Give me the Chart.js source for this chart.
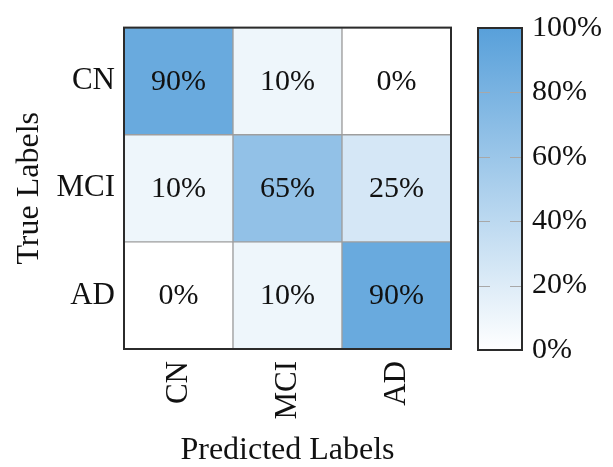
<!DOCTYPE html>
<html>
<head>
<meta charset="utf-8">
<script src="https://cdn.jsdelivr.net/npm/chart.js@4/dist/chart.umd.min.js"></script>
<style>
  html, body { margin: 0; padding: 0; background: #fff; }
  #wrap { position: relative; width: 613px; height: 467px; }
  #matrix { position: absolute; left: 0; top: 0; }
  #scale { position: absolute; left: 470px; top: 0; }
</style>
</head>
<body>
<div id="wrap">
  <canvas id="matrix" width="470" height="467"></canvas>
  <canvas id="scale" width="143" height="467"></canvas>
</div>
<script>
// Confusion matrix: rows are true labels, columns predicted labels (percent)
const predictedLabels = ['CN', 'MCI', 'AD'];
const trueLabels = ['CN', 'MCI', 'AD'];
const rowCN  = [90, 10, 0];
const rowMCI = [10, 65, 25];
const rowAD  = [0, 10, 90];
const rows = [rowCN, rowMCI, rowAD];
const colorbarTicks = [0, 20, 40, 60, 80, 100];

const FONT = '"Liberation Serif", "Times New Roman", serif';
const TEXT = '#111';
const LOW = [255, 255, 255];
const HIGH = [88, 160, 218];

function shade(v) {
  const t = v / 100;
  const c = LOW.map((lo, i) => Math.round(lo + (HIGH[i] - lo) * t));
  return `rgb(${c[0]},${c[1]},${c[2]})`;
}

// Dark frame around the plot area, drawn over the marks
const framePlugin = {
  id: 'frame',
  afterDatasetsDraw(chart) {
    const a = chart.chartArea, ctx = chart.ctx;
    ctx.save();
    ctx.strokeStyle = '#2b2b2b';
    ctx.lineWidth = 2;
    ctx.strokeRect(a.left, a.top, a.right - a.left, a.bottom - a.top);
    ctx.restore();
  }
};

// Percent value printed in the middle of every cell
const cellText = {
  id: 'cellText',
  afterDatasetsDraw(chart) {
    const ctx = chart.ctx;
    ctx.save();
    ctx.font = '30px ' + FONT;
    ctx.fillStyle = TEXT;
    ctx.textAlign = 'center';
    ctx.textBaseline = 'middle';
    chart.data.datasets.forEach((ds, di) => {
      chart.getDatasetMeta(di).data.forEach((bar, i) => {
        const p = bar.getCenterPoint();
        ctx.fillText(ds.values[i] + '%', p.x, p.y + 1);
      });
    });
    ctx.restore();
  }
};

// One floating-bar dataset per true-label row; top row is CN
const matrixDatasets = rows.map((vals, r) => ({
  label: trueLabels[r],
  values: vals,
  data: predictedLabels.map(() => [2 - r, 3 - r]),
  backgroundColor: vals.map(shade),
  borderColor: '#9e9e9e',
  borderWidth: 1,
  borderSkipped: false,
  barPercentage: 1,
  categoryPercentage: 1
}));

new Chart(document.getElementById('matrix'), {
  type: 'bar',
  data: { labels: predictedLabels, datasets: matrixDatasets },
  options: {
    responsive: false,
    animation: false,
    devicePixelRatio: 1,
    layout: { padding: { left: 0, top: 23, right: 19, bottom: 0 } },
    plugins: { legend: { display: false }, tooltip: { enabled: false } },
    scales: {
      x: {
        stacked: true,
        grid: { display: false, drawTicks: false },
        border: { display: false },
        ticks: {
          minRotation: 90, maxRotation: 90, padding: 12,
          color: TEXT, font: { family: FONT, size: 31 }
        },
        title: {
          display: true, text: 'Predicted Labels', color: TEXT,
          font: { family: FONT, size: 32, lineHeight: 1 }, padding: 0
        },
        afterFit(scale) { scale.height = 118; }
      },
      y: {
        stacked: false,
        min: 0, max: 3,
        grid: { display: false, drawTicks: false },
        border: { display: false },
        afterBuildTicks(scale) {
          scale.ticks = [0.5, 1.5, 2.5].map(v => ({ value: v }));
        },
        ticks: {
          padding: 9, color: TEXT, font: { family: FONT, size: 31 },
          callback: (v) => trueLabels[2 - Math.floor(v)]
        },
        title: {
          display: true, text: 'True Labels', color: TEXT,
          font: { family: FONT, size: 32, lineHeight: 1 },
          padding: { top: 14, bottom: 0 }
        },
        afterFit(scale) { scale.width = 124; }
      }
    }
  },
  plugins: [cellText, framePlugin]
});

// Colour bar: a single floating bar spanning the whole 0–100 range
const tickMarks = {
  id: 'tickMarks',
  afterDatasetsDraw(chart) {
    const a = chart.chartArea, ctx = chart.ctx, y = chart.scales.y;
    ctx.save();
    ctx.strokeStyle = '#a8a8a8';
    ctx.lineWidth = 1.2;
    colorbarTicks.slice(1, -1).forEach(v => {
      const py = Math.round(y.getPixelForValue(v)) + 0.5;
      ctx.beginPath();
      ctx.moveTo(a.left, py); ctx.lineTo(a.left + 12, py);
      ctx.moveTo(a.right - 12, py); ctx.lineTo(a.right, py);
      ctx.stroke();
    });
    ctx.restore();
  }
};

new Chart(document.getElementById('scale'), {
  type: 'bar',
  data: {
    labels: [''],
    datasets: [{
      data: [[colorbarTicks[0], colorbarTicks[colorbarTicks.length - 1]]],
      backgroundColor(ctx) {
        const chart = ctx.chart, s = chart.scales.y;
        if (!chart.chartArea || !s) return shade(50);
        const g = chart.ctx.createLinearGradient(0, s.getPixelForValue(0), 0, s.getPixelForValue(100));
        g.addColorStop(0, shade(0));
        g.addColorStop(1, shade(100));
        return g;
      },
      borderWidth: 0,
      barPercentage: 1,
      categoryPercentage: 1
    }]
  },
  options: {
    responsive: false,
    animation: false,
    devicePixelRatio: 1,
    layout: { padding: { left: 8, top: 23, right: 0, bottom: 117 } },
    plugins: { legend: { display: false }, tooltip: { enabled: false } },
    scales: {
      x: { display: false },
      y: {
        position: 'right',
        min: 0, max: 100,
        grid: { display: false, drawTicks: false },
        border: { display: false },
        afterBuildTicks(scale) {
          scale.ticks = colorbarTicks.map(v => ({ value: v }));
        },
        ticks: {
          padding: 10, color: TEXT, font: { family: FONT, size: 30 },
          callback: (v) => v + '%'
        },
        afterFit(scale) { scale.width = 91; }
      }
    }
  },
  plugins: [tickMarks, framePlugin]
});
</script>
</body>
</html>
